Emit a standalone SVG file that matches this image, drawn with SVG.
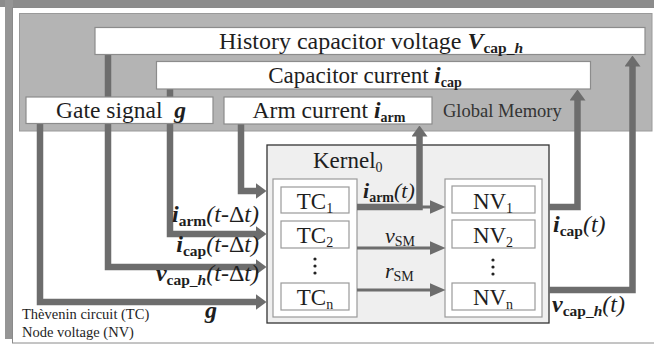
<svg xmlns="http://www.w3.org/2000/svg" width="654" height="348" viewBox="0 0 654 348">
<style>
.t{font-family:"Liberation Serif","Times New Roman",serif;fill:#1e1e1e}
.big{font-size:23px}
.lab{font-size:24px}
.sm{font-size:14.5px}
.gm{font-size:18.5px;fill:#333}
.b{font-weight:bold}
.i{font-style:italic}
.bi{font-weight:bold;font-style:italic}
.sub{font-size:14px}
.lsub{font-size:15.5px}
.mem{fill:#ffffff;stroke:#8c8c8c;stroke-width:1.2}
.cell{fill:#ffffff;stroke:#9a9a9a;stroke-width:1.2}
.thick{fill:none;stroke:#6d6d6d;stroke-width:6.5;stroke-linejoin:miter}
.thin{fill:none;stroke:#6d6d6d;stroke-width:3}
</style>
<defs>
<marker id="ah" viewBox="0 -8 11 16" markerUnits="userSpaceOnUse" markerWidth="11" markerHeight="16" refX="0.5" refY="0" orient="auto">
<path d="M0,-8 L11,0 L0,8 z" fill="#6d6d6d"/>
</marker>
<marker id="ahs" viewBox="0 -7 16 14" markerUnits="userSpaceOnUse" markerWidth="16" markerHeight="14" refX="0.5" refY="0" orient="auto">
<path d="M0,-7 L16,0 L0,7 z" fill="#6d6d6d"/>
</marker>
</defs>

<!-- frame -->
<rect x="0" y="0" width="654" height="348" fill="#ffffff"/>
<rect x="0" y="0" width="654" height="7" fill="#8c8c8c"/>
<rect x="5" y="0" width="8" height="339" fill="#959595"/>
<rect x="12.5" y="7.5" width="650" height="335.5" fill="#ffffff" stroke="#8a8a8a" stroke-width="1"/>

<!-- global memory area -->
<g id="global-memory">
<rect x="19.5" y="13.5" width="632.5" height="117.5" fill="#b4b4b4" stroke="#9a9a9a" stroke-width="1"/>
<text x="443" y="117" class="t gm">Global Memory</text>
</g>

<!-- kernel -->
<g id="kernel">
<rect x="267" y="145" width="282" height="178" fill="#efefef" stroke="#333333" stroke-width="1.3"/>
<text x="313" y="168" class="t big">Kernel<tspan class="sub" dy="4">0</tspan></text>
</g>
<g id="tc">
<rect x="273" y="179" width="84" height="138" class="cell"/>
<g id="tc1"><rect x="281" y="187" width="68" height="26" class="cell"/>
<text x="315" y="209" text-anchor="middle" class="t big">TC<tspan class="sub" font-size="15" dy="4">1</tspan></text></g>
<g id="tc2"><rect x="281" y="221" width="68" height="27" class="cell"/>
<text x="315" y="243" text-anchor="middle" class="t big">TC<tspan class="sub" font-size="15" dy="4">2</tspan></text></g>
<g fill="#222"><circle cx="315" cy="259" r="1.6"/><circle cx="315" cy="266" r="1.6"/><circle cx="315" cy="273" r="1.6"/></g>
<g id="tcn"><rect x="281" y="283" width="68" height="27" class="cell"/>
<text x="315" y="305" text-anchor="middle" class="t big">TC<tspan class="sub" font-size="15" dy="4">n</tspan></text></g>
</g>
<g id="nv">
<rect x="445" y="179" width="97" height="138" class="cell"/>
<g id="nv1"><rect x="452" y="186" width="83" height="27" class="cell"/>
<text x="493" y="209" text-anchor="middle" class="t big">NV<tspan class="sub" font-size="15" dy="4">1</tspan></text></g>
<g id="nv2"><rect x="452" y="220" width="83" height="28" class="cell"/>
<text x="493" y="243" text-anchor="middle" class="t big">NV<tspan class="sub" font-size="15" dy="4">2</tspan></text></g>
<g fill="#222"><circle cx="493" cy="260" r="1.6"/><circle cx="493" cy="267" r="1.6"/><circle cx="493" cy="274" r="1.6"/></g>
<g id="nvn"><rect x="452" y="283" width="83" height="27" class="cell"/>
<text x="493" y="305" text-anchor="middle" class="t big">NV<tspan class="sub" font-size="15" dy="4">n</tspan></text></g>
</g>

<!-- connectors -->
<g id="connectors">
<path class="thin" d="M357,207 H430" marker-end="url(#ahs)"/>
<path class="thin" d="M357,248 H430" marker-end="url(#ahs)"/>
<path class="thin" d="M357,290 H430" marker-end="url(#ahs)"/>
<path class="thick" d="M40,124 V302 H256" marker-end="url(#ah)"/>
<path class="thick" d="M108,54 V267 H256" marker-end="url(#ah)"/>
<path class="thick" d="M170,89 V234 H256" marker-end="url(#ah)"/>
<path class="thick" d="M241,124 V191 H256" marker-end="url(#ah)"/>
<path class="thick" d="M357,207 H419.5 V136" marker-end="url(#ah)"/>
<path class="thick" d="M549,207 H577.5 V100" marker-end="url(#ah)"/>
<path class="thick" d="M549,290 H632.5 V66" marker-end="url(#ah)"/>
</g>

<!-- memory boxes -->
<g id="history">
<rect x="95" y="27.5" width="550" height="27" class="mem"/>
<text x="371" y="49" text-anchor="middle" class="t" font-size="24">History capacitor voltage <tspan class="bi">V</tspan><tspan class="b lsub" dy="4">cap_</tspan><tspan class="bi lsub">h</tspan></text>
</g>
<g id="cap-current">
<rect x="156.5" y="61.5" width="434" height="27.5" class="mem"/>
<text x="365" y="83" text-anchor="middle" class="t big">Capacitor current <tspan class="bi">i</tspan><tspan class="b sub" dy="4">cap</tspan></text>
</g>
<g id="gate">
<rect x="26" y="97" width="187" height="26.5" class="mem"/>
<text x="121" y="118" text-anchor="middle" class="t" font-size="23.5" xml:space="preserve">Gate signal  <tspan class="bi">g</tspan></text>
</g>
<g id="arm">
<rect x="224" y="97" width="208" height="27" class="mem"/>
<text x="329" y="118" text-anchor="middle" class="t" font-size="23.5">Arm current <tspan class="bi">i</tspan><tspan class="b sub" dy="4">arm</tspan></text>
</g>

<!-- labels -->
<g id="labels">
<text x="259" y="222" text-anchor="end" class="t lab"><tspan class="bi">i</tspan><tspan class="b lsub" dy="4">arm</tspan><tspan class="i" dy="-4">(t</tspan>-Δ<tspan class="i">t)</tspan></text>
<text x="259" y="252" text-anchor="end" class="t lab"><tspan class="bi">i</tspan><tspan class="b lsub" dy="4">cap</tspan><tspan class="i" dy="-4">(t</tspan>-Δ<tspan class="i">t)</tspan></text>
<text x="259" y="281" text-anchor="end" class="t lab"><tspan class="bi">v</tspan><tspan class="b lsub" dy="4">cap_</tspan><tspan class="bi lsub">h</tspan><tspan class="i" dy="-4">(t</tspan>-Δ<tspan class="i">t)</tspan></text>
<text x="205" y="318" class="t lab bi">g</text>
<text x="22" y="319" class="t sm">Thèvenin circuit (TC)</text>
<text x="22" y="337" class="t sm">Node voltage (NV)</text>
<text x="363" y="198" class="t" font-size="22"><tspan class="bi">i</tspan><tspan class="b sub" dy="4">arm</tspan><tspan class="i" dy="-4">(t)</tspan></text>
<text x="385" y="243" class="t" font-size="22"><tspan class="i">v</tspan><tspan class="sub" font-size="15" dy="3">SM</tspan></text>
<text x="385" y="278" class="t" font-size="22"><tspan class="i">r</tspan><tspan class="sub" font-size="15" dy="3">SM</tspan></text>
<text x="553" y="232" class="t lab"><tspan class="bi">i</tspan><tspan class="b lsub" dy="4">cap</tspan><tspan class="i" dy="-4">(t)</tspan></text>
<text x="552" y="312" class="t lab"><tspan class="bi">v</tspan><tspan class="b lsub" dy="4">cap_</tspan><tspan class="bi lsub">h</tspan><tspan class="i" dy="-4">(t)</tspan></text>
</g>
</svg>
